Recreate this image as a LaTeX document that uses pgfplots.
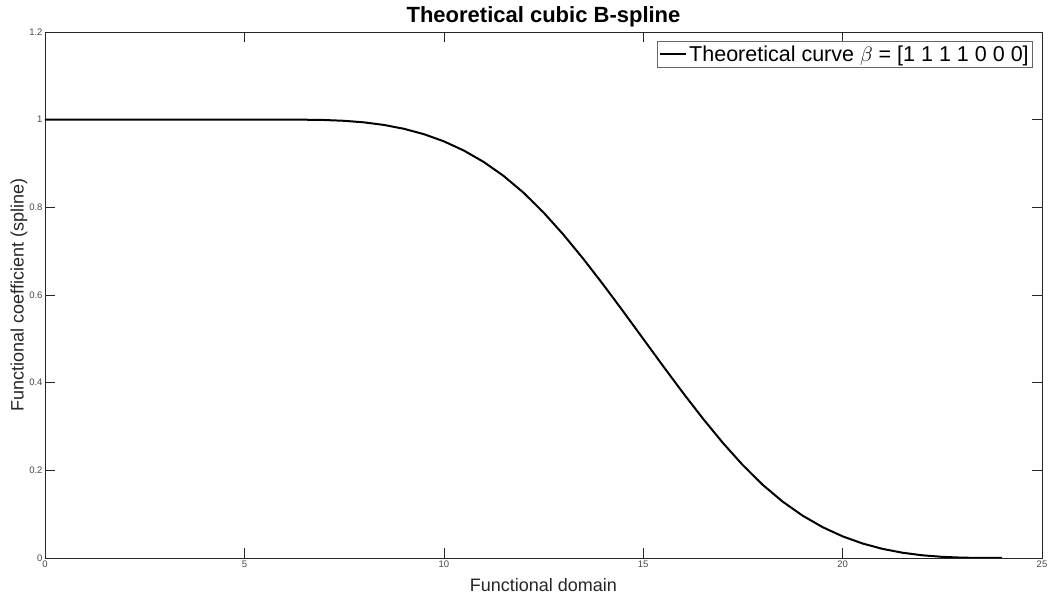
\documentclass[border=0pt]{standalone}
\usepackage{fontspec}
\setmainfont{Liberation Sans}
\usepackage{pgfplots}
\pgfplotsset{compat=1.18}
\definecolor{axgray}{RGB}{38,38,38}

\begin{document}
\begin{tikzpicture}
\begin{axis}[
  scale only axis, width=997pt, height=526pt,
  xmin=0, xmax=25, ymin=0, ymax=1.2,
  xtick distance=5, ytick={0,0.2,0.4,0.6,0.8,1,1.2},
  tick align=inside, major tick length=10pt,
  axis line style={axgray, line width=0.6pt},
  tick style={axgray, line width=0.6pt},
  tick label style={font=\fontsize{9.5}{10}\selectfont, text=axgray!85},
  /pgf/number format/assume math mode=true,
  xticklabel style={yshift=1pt},
  yticklabel style={xshift=1pt},
  title={\bfseries Theoretical cubic B-spline},
  title style={font=\fontsize{22}{24}\selectfont, yshift=-5pt},
  xlabel={Functional domain},
  ylabel={Functional coefficient (spline)},
  label style={font=\fontsize{18}{20}\selectfont, text=axgray},
  xlabel style={yshift=-4pt},
  ylabel style={yshift=-5pt},
  legend style={at={(rel axis cs:0.991,0.982)}, anchor=north east,
    draw=axgray!70, line width=0.6pt, font=\fontsize{21.5}{23}\selectfont,
    inner sep=2pt, fill=white},
  legend cell align=left,
  legend image code/.code={\draw[black, line width=2pt] (0pt,0pt) -- (26pt,0pt);},
]
\addplot[black, line width=2pt] coordinates {
(0,1) (1,1) (2,1) (3,1) (4,1) (5,1) (6,1)
(6.5,0.9999) (7,0.99923) (7.5,0.9974) (8,0.99383) (8.5,0.98794) (9,0.97917)
(9.5,0.96692) (10,0.95062) (10.5,0.92969) (11,0.90355) (11.5,0.87162) (12,0.83333)
(12.5,0.78838) (13,0.73765) (13.5,0.68229) (14,0.62346) (14.5,0.5623) (15,0.5)
(15.5,0.4377) (16,0.37654) (16.5,0.31771) (17,0.26235) (17.5,0.21162) (18,0.16667)
(18.5,0.12838) (19,0.09645) (19.5,0.07031) (20,0.04938) (20.5,0.03308) (21,0.02083)
(21.5,0.01206) (22,0.00617) (22.5,0.0026) (23,0.00077) (23.5,0.0001) (24,0)
};
\addlegendentry{Theoretical curve $\beta$ = [1 1 1 1 0 0 0]}
\end{axis}
\pgfresetboundingbox
\path ([shift={(-45pt,-41pt)}]current axis.south west) rectangle ([shift={(8pt,32pt)}]current axis.north east);
\end{tikzpicture}
\end{document}
